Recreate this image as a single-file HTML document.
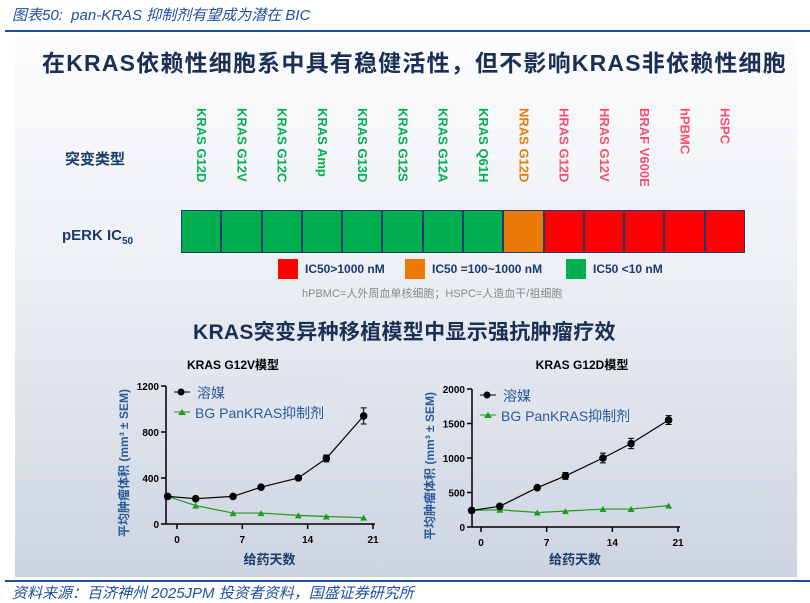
<!DOCTYPE html>
<html><head><meta charset="utf-8">
<style>
body{margin:0;width:810px;height:603px;background:#fff;position:relative;overflow:hidden;font-family:"Liberation Sans","Noto Sans CJK SC",sans-serif}
.abs{position:absolute;white-space:nowrap}
#panel{position:absolute;left:15px;top:36px;width:782px;height:541px;background:linear-gradient(#fbfcfd,#eef1f5 40%,#cdd4e1)}
.vl{position:absolute;top:108px;writing-mode:vertical-rl;font-size:13px;font-weight:bold;width:40px;line-height:40px;text-align:left}
</style></head><body>
<div class="abs" style="left:12px;top:4px;font-size:15px;font-style:italic;color:#1f4fa0">图表50:&nbsp; pan-KRAS 抑制剂有望成为潜在 BIC</div>
<div style="position:absolute;left:5px;top:30px;width:805px;height:2px;background:#1f4fa0"></div>
<div id="panel"></div>
<div class="abs" style="left:42px;top:44px;font-size:23px;font-weight:bold;color:#1b2f55;letter-spacing:1.2px">在KRAS依赖性细胞系中具有稳健活性，但不影响KRAS非依赖性细胞</div>
<div class="abs" style="left:65px;top:148px;font-size:15px;font-weight:bold;color:#1b3a6b">突变类型</div>
<div class="abs" style="left:62px;top:227px;font-size:15px;font-weight:bold;color:#1b3a6b">pERK IC<sub style="font-size:10px">50</sub></div>
<div id="hm"></div>
<div class="abs" style="left:278px;top:259px;width:20px;height:20px;background:#ff0000"></div>
<div class="abs" style="left:305px;top:262px;font-size:12px;font-weight:bold;color:#1b3a6b">IC50&gt;1000 nM</div>
<div class="abs" style="left:405px;top:259px;width:20px;height:20px;background:#ec7a08"></div>
<div class="abs" style="left:432px;top:262px;font-size:12px;font-weight:bold;color:#1b3a6b">IC50 =100~1000 nM</div>
<div class="abs" style="left:566px;top:259px;width:20px;height:20px;background:#00b050"></div>
<div class="abs" style="left:593px;top:262px;font-size:12px;font-weight:bold;color:#1b3a6b">IC50 &lt;10 nM</div>
<div class="abs" style="left:302px;top:285px;font-size:11px;color:#888">hPBMC=人外周血单核细胞；HSPC=人造血干/祖细胞</div>
<div class="abs" style="left:193px;top:316px;font-size:21px;font-weight:bold;color:#1b2f55;letter-spacing:0.3px">KRAS突变异种移植模型中显示强抗肿瘤疗效</div>
<svg id="charts" width="810" height="603" style="position:absolute;left:0;top:0"></svg>
<div style="position:absolute;left:5px;top:580px;width:805px;height:2px;background:#1f4fa0"></div>
<div class="abs" style="left:12px;top:582px;font-size:15px;font-style:italic;color:#1f4fa0">资料来源：百济神州 2025JPM 投资者资料，国盛证券研究所</div>
<script>
const cellLines=["KRAS G12D","KRAS G12V","KRAS G12C","KRAS Amp","KRAS G13D","KRAS G12S","KRAS G12A","KRAS Q61H","NRAS G12D","HRAS G12D","HRAS G12V","BRAF V600E","hPBMC","HSPC"];
const ic50Class=["g","g","g","g","g","g","g","g","o","r","r","r","r","r"];
const days=[-1,2,6,9,13,16,20];
const g12vVehicle=[240,220,240,320,400,570,940];
const g12vDrug=[240,160,95,95,75,65,55];
const g12dVehicle=[240,300,570,740,1000,1210,1550];
const g12dDrug=[240,250,210,230,260,260,310];
const g12vErr=[15,10,12,12,12,30,70];
const g12dErr=[20,15,15,50,70,75,65];
const xTicks=[0,7,14,21];
const g12vTicks=[0,400,800,1200];
const g12dTicks=[0,500,1000,1500,2000];

const col={g:"#00b050",o:"#ec7a08",r:"#ff0000"};
const txt={g:"#00b050",o:"#ec7a08",r:"#ff4d6d"};
const hm=document.getElementById('hm');
const x0=181,cw=564/cellLines.length;
cellLines.forEach((n,i)=>{
  const c=document.createElement('div');
  
  
  c.style.cssText=`position:absolute;left:${x0+i*cw}px;top:210px;width:${cw}px;height:43px;background:${col[ic50Class[i]]};border:1.5px solid #1f3c6e;box-sizing:border-box`;
  hm.appendChild(c);
  const l=document.createElement('div');
  
  
  l.className='vl';
  l.style.left=(x0+i*cw)+'px';l.style.color=txt[ic50Class[i]];
  l.textContent=n;
  hm.appendChild(l);
});

const svg=document.getElementById('charts');
const NS="http://www.w3.org/2000/svg";
function el(t,a,name,txt){const e=document.createElementNS(NS,t);for(const k in a)e.setAttribute(k,a[k]);
  
  
  if(txt!==undefined)e.textContent=txt;svg.appendChild(e);return e;}
function chart(o){
  const sx=d=>o.x0+(d/21)*(o.x21-o.x0);
  const ymax=o.ticks[o.ticks.length-1];
  const sy=v=>o.yb-(v/ymax)*(o.yb-o.yt);
  el('line',{x1:o.ax,y1:o.yt,x2:o.ax,y2:o.yb,stroke:'#000','stroke-width':1.5},'y-axis');
  el('line',{x1:o.ax,y1:o.yb,x2:o.x21+2,y2:o.yb,stroke:'#000','stroke-width':1.5},'x-axis');
  o.ticks.forEach(t=>{el('line',{x1:o.ax-5,y1:sy(t),x2:o.ax,y2:sy(t),stroke:'#000','stroke-width':1.5},'y-tick');
    el('text',{x:o.ax-7,y:sy(t)+4,'font-size':10,'font-weight':'bold','text-anchor':'end','font-family':'Liberation Sans'},'y-tick-label',t);});
  xTicks.forEach(t=>{el('line',{x1:sx(t),y1:o.yb,x2:sx(t),y2:o.yb+5,stroke:'#000','stroke-width':1.5},'x-tick');
    el('text',{x:sx(t),y:o.yb+19,'font-size':10,'font-weight':'bold','text-anchor':'middle','font-family':'Liberation Sans'},'x-tick-label',t);});
  el('text',{x:o.cx,y:369,'font-size':12,'font-weight':'bold','text-anchor':'middle'},'chart-title',o.title);
  el('text',{x:(o.ax+o.x21)/2,y:564,'font-size':13,'font-weight':'bold','text-anchor':'middle',fill:'#1b3a6b'},'x-axis-title','给药天数');
  el('text',{x:0,y:0,'font-size':12,'font-weight':'bold','text-anchor':'middle',fill:'#2a5a9a',transform:`translate(${o.ax-38},${(o.yt+o.yb)/2+8}) rotate(-90)`},'y-axis-title','平均肿瘤体积 (mm³ ± SEM)');
  el('rect',{x:o.ax+28,y:o.yt-6,width:150,height:44,fill:'#dfe4ee',opacity:0.8},'legend-box');
  el('line',{x1:o.ax+8,y1:o.yt+6,x2:o.ax+24,y2:o.yt+6,stroke:'#000'},'legend-vehicle-line');
  el('circle',{cx:o.ax+15,cy:o.yt+6,r:3.5},'legend-vehicle-marker');
  el('text',{x:o.ax+31,y:o.yt+12,'font-size':14,fill:'#2a5a9a'},'legend-vehicle','溶媒');
  el('line',{x1:o.ax+8,y1:o.yt+26,x2:o.ax+24,y2:o.yt+26,stroke:'#1f9a1f'},'legend-drug-line');
  el('path',{d:`M${o.ax+12} ${o.yt+29}l4 -6l4 6z`,fill:'#1f9a1f'},'legend-drug-marker');
  el('text',{x:o.ax+29,y:o.yt+32,'font-size':14,fill:'#2a5a9a'},'legend-drug','BG PanKRAS抑制剂');
  el('polyline',{points:days.map((d,i)=>sx(d)+','+sy(o.drug[i])).join(' '),fill:'none',stroke:'#1f9a1f','stroke-width':1.2},'drug-line');
  days.forEach((d,i)=>el('path',{d:`M${sx(d)-3.5} ${sy(o.drug[i])+3}l3.5 -6l3.5 6z`,fill:'#1f9a1f'},'drug-point'));
  el('polyline',{points:days.map((d,i)=>sx(d)+','+sy(o.veh[i])).join(' '),fill:'none',stroke:'#000','stroke-width':1.2},'vehicle-line');
  days.forEach((d,i)=>{const y1=sy(o.veh[i]+o.err[i]),y2=sy(o.veh[i]-o.err[i]);
    el('path',{d:`M${sx(d)} ${y1}V${y2}M${sx(d)-3} ${y1}h6M${sx(d)-3} ${y2}h6`,stroke:'#000','stroke-width':1},'vehicle-error-bar');
    el('circle',{cx:sx(d),cy:sy(o.veh[i]),r:3.8},'vehicle-point');});
}
chart({title:'KRAS G12V模型',cx:233,ax:166,x0:177,x21:373,yt:386,yb:524,ticks:g12vTicks,veh:g12vVehicle,drug:g12vDrug,err:g12vErr});
chart({title:'KRAS G12D模型',cx:582,ax:472,x0:481,x21:678,yt:389,yb:527,ticks:g12dTicks,veh:g12dVehicle,drug:g12dDrug,err:g12dErr});
</script>
</body></html>
